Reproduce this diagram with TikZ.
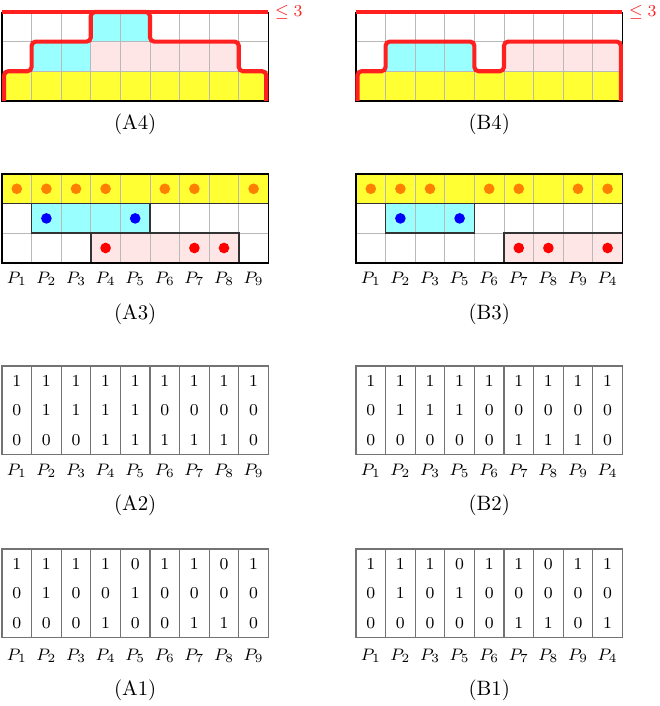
\documentclass[tikz,border=0pt]{standalone}
\definecolor{myyellow}{HTML}{FFFF33}
\definecolor{mycyan}{HTML}{99FFFF}
\definecolor{mypink}{HTML}{FFE6E6}
\definecolor{myred}{HTML}{FF2020}
\definecolor{myorange}{HTML}{FF8000}
\definecolor{myblue}{HTML}{0000FF}
\definecolor{mydot}{HTML}{FF0000}
\tikzset{
  gridln/.style={gray!55, line width=0.4pt},
  frame/.style={black, line width=0.8pt},
  region/.style={black!80, line width=0.8pt},
  redln/.style={myred, line width=2pt},
  tabln/.style={black!55, line width=0.5pt},
  plbl/.style={font=\footnotesize, inner sep=0pt},
  num/.style={font=\footnotesize, inner sep=0pt},
  captxt/.style={inner sep=0pt},
  dotr/.style={radius=0.09cm},
}
\newcommand{\mygridlines}{%
  \foreach \c in {1,...,8} \draw[gridln] (\c,0) -- (\c,3);
  \foreach \r in {1,2} \draw[gridln] (0,\r) -- (9,\r);
}
\begin{document}
\begin{tikzpicture}
\useasboundingbox (0,0) rectangle (11.149,-11.926);
% ---------- A4 ----------
\begin{scope}[shift={(0.0338cm,-0.2027cm)}, x=0.5cm, y=-0.5cm]
  \fill[myyellow] (0,2) rectangle (9,3);
  \fill[mycyan] (1,1) rectangle (3,2);
  \fill[mycyan] (3,0) rectangle (5,1);
  \fill[mypink] (3,1) rectangle (8,2);
  \mygridlines
  \draw[frame] (0,0) -- (0,3) -- (9,3) -- (9,0);
  \draw[redln, rounded corners=2pt] (0.07,3) -- (0.07,2) -- (1,2) -- (1,1) -- (3,1) -- (3,0) -- (5,0) -- (5,1) -- (8,1) -- (8,2) -- (8.93,2) -- (8.93,3);
  \draw[redln] (0,0) -- (9,0);
  \node[font=\footnotesize, text=myred, anchor=west, inner sep=3pt] (a4le) at (9,0) {$\le 3$};
  \node[captxt] (a4cap) at (4.5,3.8) {(A4)};
\end{scope}
% ---------- B4 ----------
\begin{scope}[shift={(6.0135cm,-0.2027cm)}, x=0.5cm, y=-0.5cm]
  \fill[myyellow] (0,2) rectangle (9,3);
  \fill[mycyan] (1,1) rectangle (4,2);
  \fill[mypink] (5,1) rectangle (9,2);
  \mygridlines
  \draw[frame] (0,0) -- (0,3) -- (9,3) -- (9,0);
  \draw[redln, rounded corners=2pt] (0.05,3) -- (0.05,2) -- (1,2) -- (1,1) -- (4,1) -- (4,2) -- (5,2) -- (5,1) -- (8.95,1) -- (8.95,3);
  \draw[redln] (0,0) -- (9,0);
  \node[font=\footnotesize, text=myred, anchor=west, inner sep=3pt] (b4le) at (9,0) {$\le 3$};
  \node[captxt] (b4cap) at (4.5,3.8) {(B4)};
\end{scope}
% ---------- A3 ----------
\begin{scope}[shift={(0.0338cm,-2.9392cm)}, x=0.5cm, y=-0.5cm]
  \fill[myyellow] (0,0) rectangle (9,1);
  \fill[mycyan] (1,1) rectangle (5,2);
  \fill[mypink] (3,2) rectangle (8,3);
  \mygridlines
  \draw[region] (0,0) rectangle (9,1);
  \draw[region] (1,1) rectangle (5,2);
  \draw[region] (3,2) rectangle (8,3);
  \draw[frame] (0,0) rectangle (9,3);
  \foreach \c in {0,1,2,3,5,6,8} \fill[myorange] (\c+0.5,0.5) circle[dotr];
  \foreach \c in {1,4} \fill[myblue] (\c+0.5,1.5) circle[dotr];
  \foreach \c in {3,6,7} \fill[mydot] (\c+0.5,2.5) circle[dotr];
  \foreach \p [count=\c from 0] in {1,2,3,4,5,6,7,8,9}
    \node[plbl] (a3p\c) at (\c+0.5,3.53) {$P_{\p}$};
  \node[captxt] (a3cap) at (4.5,4.73) {(A3)};
\end{scope}
% ---------- B3 ----------
\begin{scope}[shift={(6.0135cm,-2.9392cm)}, x=0.5cm, y=-0.5cm]
  \fill[myyellow] (0,0) rectangle (9,1);
  \fill[mycyan] (1,1) rectangle (4,2);
  \fill[mypink] (5,2) rectangle (9,3);
  \mygridlines
  \draw[region] (0,0) rectangle (9,1);
  \draw[region] (1,1) rectangle (4,2);
  \draw[region] (5,2) rectangle (9,3);
  \draw[frame] (0,0) rectangle (9,3);
  \foreach \c in {0,1,2,4,5,7,8} \fill[myorange] (\c+0.5,0.5) circle[dotr];
  \foreach \c in {1,3} \fill[myblue] (\c+0.5,1.5) circle[dotr];
  \foreach \c in {5,6,8} \fill[mydot] (\c+0.5,2.5) circle[dotr];
  \foreach \p [count=\c from 0] in {1,2,3,5,6,7,8,9,4}
    \node[plbl] (b3p\c) at (\c+0.5,3.53) {$P_{\p}$};
  \node[captxt] (b3cap) at (4.5,4.73) {(B3)};
\end{scope}
% ---------- A2 ----------
\begin{scope}[shift={(0.0338cm,-6.1824cm)}, x=0.5cm, y=-0.5cm]
  \draw[tabln] (0,0) rectangle (9,3);
  \foreach \c in {1,...,8} \draw[tabln] (\c,0) -- (\c,3);
  \foreach \v [count=\c from 0] in {1,1,1,1,1,1,1,1,1} \node[num] (a2r0c\c) at (\c+0.5,0.5) {\v};
  \foreach \v [count=\c from 0] in {0,1,1,1,1,0,0,0,0} \node[num] (a2r1c\c) at (\c+0.5,1.5) {\v};
  \foreach \v [count=\c from 0] in {0,0,0,1,1,1,1,1,0} \node[num] (a2r2c\c) at (\c+0.5,2.5) {\v};
  \foreach \p [count=\c from 0] in {1,2,3,4,5,6,7,8,9}
    \node[plbl] (a2p\c) at (\c+0.5,3.53) {$P_{\p}$};
  \node[captxt] (a2cap) at (4.5,4.72) {(A2)};
\end{scope}
% ---------- B2 ----------
\begin{scope}[shift={(6.0135cm,-6.1824cm)}, x=0.5cm, y=-0.5cm]
  \draw[tabln] (0,0) rectangle (9,3);
  \foreach \c in {1,...,8} \draw[tabln] (\c,0) -- (\c,3);
  \foreach \v [count=\c from 0] in {1,1,1,1,1,1,1,1,1} \node[num] (b2r0c\c) at (\c+0.5,0.5) {\v};
  \foreach \v [count=\c from 0] in {0,1,1,1,0,0,0,0,0} \node[num] (b2r1c\c) at (\c+0.5,1.5) {\v};
  \foreach \v [count=\c from 0] in {0,0,0,0,0,1,1,1,0} \node[num] (b2r2c\c) at (\c+0.5,2.5) {\v};
  \foreach \p [count=\c from 0] in {1,2,3,5,6,7,8,9,4}
    \node[plbl] (b2p\c) at (\c+0.5,3.53) {$P_{\p}$};
  \node[captxt] (b2cap) at (4.5,4.72) {(B2)};
\end{scope}
% ---------- A1 ----------
\begin{scope}[shift={(0.0338cm,-9.2736cm)}, x=0.5cm, y=-0.5cm]
  \draw[tabln] (0,0) rectangle (9,3);
  \foreach \c in {1,...,8} \draw[tabln] (\c,0) -- (\c,3);
  \foreach \v [count=\c from 0] in {1,1,1,1,0,1,1,0,1} \node[num] (a1r0c\c) at (\c+0.5,0.5) {\v};
  \foreach \v [count=\c from 0] in {0,1,0,0,1,0,0,0,0} \node[num] (a1r1c\c) at (\c+0.5,1.5) {\v};
  \foreach \v [count=\c from 0] in {0,0,0,1,0,0,1,1,0} \node[num] (a1r2c\c) at (\c+0.5,2.5) {\v};
  \foreach \p [count=\c from 0] in {1,2,3,4,5,6,7,8,9}
    \node[plbl] (a1p\c) at (\c+0.5,3.6) {$P_{\p}$};
  \node[captxt] (a1cap) at (4.5,4.78) {(A1)};
\end{scope}
% ---------- B1 ----------
\begin{scope}[shift={(6.0135cm,-9.2736cm)}, x=0.5cm, y=-0.5cm]
  \draw[tabln] (0,0) rectangle (9,3);
  \foreach \c in {1,...,8} \draw[tabln] (\c,0) -- (\c,3);
  \foreach \v [count=\c from 0] in {1,1,1,0,1,1,0,1,1} \node[num] (b1r0c\c) at (\c+0.5,0.5) {\v};
  \foreach \v [count=\c from 0] in {0,1,0,1,0,0,0,0,0} \node[num] (b1r1c\c) at (\c+0.5,1.5) {\v};
  \foreach \v [count=\c from 0] in {0,0,0,0,0,1,1,0,1} \node[num] (b1r2c\c) at (\c+0.5,2.5) {\v};
  \foreach \p [count=\c from 0] in {1,2,3,5,6,7,8,9,4}
    \node[plbl] (b1p\c) at (\c+0.5,3.6) {$P_{\p}$};
  \node[captxt] (b1cap) at (4.5,4.78) {(B1)};
\end{scope}
\end{tikzpicture}
\end{document}
